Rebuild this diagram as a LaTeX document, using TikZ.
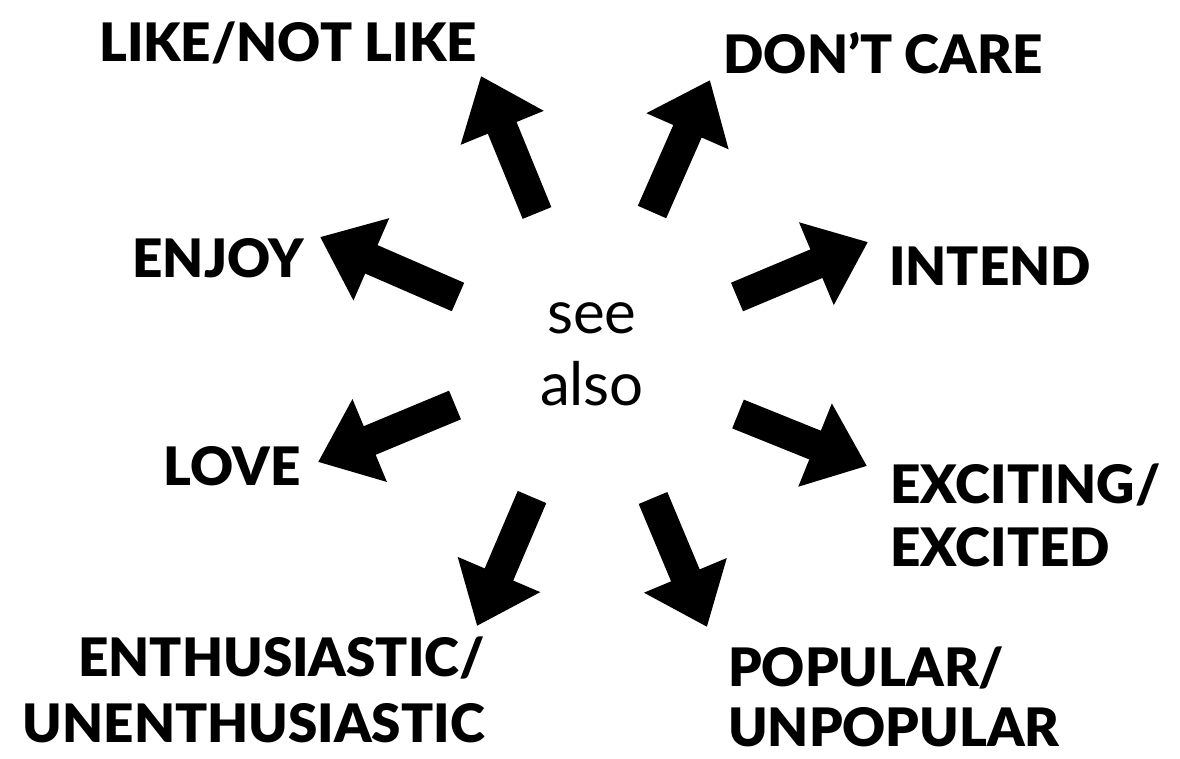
\documentclass[tikz,border=0pt]{standalone}
\usepackage{fontspec}
\setmainfont{Lato}
\newfontfamily\blackfont{Lato Black}
\usetikzlibrary{arrows.meta}

\begin{document}
\begin{tikzpicture}[x=1pt, y=-1pt,
  palabra/.style={inner sep=0pt, font=\blackfont\fontsize{53}{63}\selectfont, align=left},
  centro/.style={inner sep=0pt, font=\fontsize{60}{72}\selectfont, align=center},
  flecha/.style={line width=31pt, -{Triangle[length=56pt, width=86pt]}}
]
\useasboundingbox (0,0) rectangle (1180,758);
% centro
\node[centro] (see) at (592,354) {see\\also};
% palabras
\node[palabra] (like) at (288,43) {LIKE/NOT LIKE};
\node[palabra] (care) at (883,53) {DON’T CARE};
\node[palabra] (enjoy) at (218,258) {ENJOY};
\node[palabra] (intend) at (990,266) {INTEND};
\node[palabra] (love) at (232,466) {LOVE};
\node[palabra, anchor=west] (exc) at (890,515) {EXCITING/\\EXCITED};
\node[palabra, align=right, anchor=east, font=\blackfont\fontsize{53}{66}\selectfont] (ent) at (485,690) {ENTHUSIASTIC/\\UNENTHUSIASTIC};
\node[palabra, anchor=west, font=\blackfont\fontsize{53}{60}\selectfont] (pop) at (728,697) {POPULAR/\\UNPOPULAR};
% extremos de las flechas
\coordinate (t1) at (537,213); \coordinate (h1) at (481,76);
\coordinate (t2) at (652,212); \coordinate (h2) at (710,80);
\coordinate (t3) at (458,297); \coordinate (h3) at (320,237);
\coordinate (t4) at (737,297); \coordinate (h4) at (868,242);
\coordinate (t5) at (455,405); \coordinate (h5) at (318,462);
\coordinate (t6) at (738,414); \coordinate (h6) at (867,466);
\coordinate (t7) at (532,497); \coordinate (h7) at (477,626);
\coordinate (t8) at (653,498); \coordinate (h8) at (707,627);
% flechas
\foreach \i in {1,...,8}
  \draw[flecha] (t\i) -- (h\i);
\end{tikzpicture}
\end{document}
